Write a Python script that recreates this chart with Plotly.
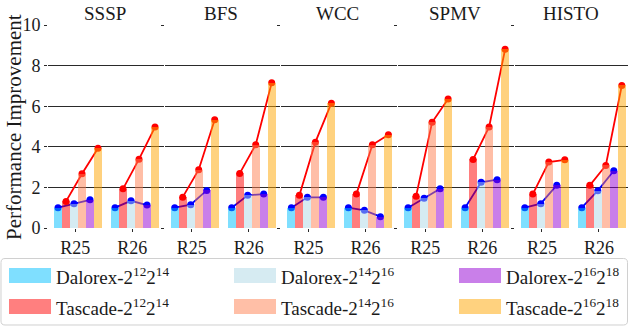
import plotly.graph_objects as go

# ---------------- data ----------------
benchmarks = ["SSSP", "BFS", "WCC", "SPMV", "HISTO"]
runs = ["R25", "R26"]
series_names = [
    "Dalorex-2<sup>12</sup>2<sup>14</sup>",
    "Tascade-2<sup>12</sup>2<sup>14</sup>",
    "Dalorex-2<sup>14</sup>2<sup>16</sup>",
    "Tascade-2<sup>14</sup>2<sup>16</sup>",
    "Dalorex-2<sup>16</sup>2<sup>18</sup>",
    "Tascade-2<sup>16</sup>2<sup>18</sup>",
]
# values ordered: SSSP R25, SSSP R26, BFS R25, BFS R26, WCC R25, WCC R26, SPMV R25, SPMV R26, HISTO R25, HISTO R26
dalorex_12_14 = [1.0, 1.0, 1.0, 1.0, 1.0, 1.0, 1.0, 1.0, 1.0, 1.0]
tascade_12_14 = [1.31, 1.93, 1.52, 2.69, 1.61, 1.67, 1.57, 3.38, 1.67, 2.10]
dalorex_14_16 = [1.20, 1.34, 1.15, 1.61, 1.51, 0.87, 1.46, 2.25, 1.20, 1.84]
tascade_14_16 = [2.67, 3.39, 2.87, 4.10, 4.23, 4.10, 5.21, 4.98, 3.25, 3.08]
dalorex_16_18 = [1.39, 1.13, 1.85, 1.67, 1.51, 0.56, 1.93, 2.38, 2.11, 2.82]
tascade_16_18 = [3.93, 4.97, 5.33, 7.15, 6.15, 4.59, 6.36, 8.80, 3.36, 7.02]
y_ticks = [0, 2, 4, 6, 8, 10]

series_values = [dalorex_12_14, tascade_12_14, dalorex_14_16,
                 tascade_14_16, dalorex_16_18, tascade_16_18]
bar_colors = ["deepskyblue", "red", "lightblue", "coral", "darkviolet", "orange"]

# ---------------- layout geometry ----------------
W, H = 629, 329
L, R, T, B = 48, 0, 25, 101
PW, PH = W - L - R, H - T - B
FONT = "Liberation Serif, DejaVu Serif, serif"
TXT = "#1a1a1a"
GRID = "#2a2a2a"


def fx(px):
    return (px - L) / PW


def fy(py):
    return (H - B - py) / PH


period = 116.7
sub_w = 113.0
px_per_unit = 57.0
bw = 8.0 / px_per_unit
xmin = -3 * bw - 6.0 / px_per_unit
xmax = xmin + sub_w / px_per_unit

fig = go.Figure()
layout = dict(
    width=W, height=H,
    margin=dict(l=L, r=R, t=T, b=B, pad=0),
    paper_bgcolor="white", plot_bgcolor="white",
    font=dict(family=FONT, size=19, color=TXT),
    showlegend=False,
    bargap=0, barmode="overlay",
)

annotations = []
shapes = []
run_pos = list(range(len(runs)))

for i, bench in enumerate(benchmarks):
    n = i + 1
    ov = i + 1 + len(benchmarks)
    d0 = fx(L + period * i)
    d1 = fx(L + period * i + sub_w)
    xa = "x" if n == 1 else f"x{n}"
    ya = "y" if n == 1 else f"y{n}"
    xo, yo = f"x{ov}", f"y{ov}"

    layout["xaxis" if n == 1 else f"xaxis{n}"] = dict(
        domain=[d0, d1], anchor=ya, range=[xmin, xmax],
        tickmode="array", tickvals=[p - 0.05 for p in run_pos], ticktext=runs,
        ticks="outside", ticklen=3, tickcolor=GRID, showgrid=False,
        zeroline=False, showline=False, tickfont=dict(size=18, family=FONT),
    )
    layout["yaxis" if n == 1 else f"yaxis{n}"] = dict(
        domain=[0, 1], anchor=xa, range=[0, 10],
        tickmode="array", tickvals=y_ticks,
        ticks="outside", ticklen=3, tickcolor=GRID,
        showgrid=True, gridcolor=GRID, gridwidth=1,
        zeroline=False, showline=False, showticklabels=(n == 1),
        tickfont=dict(size=18, family=FONT),
    )
    layout[f"xaxis{ov}"] = dict(overlaying=xa, anchor=yo, range=[xmin, xmax],
                                visible=False)
    layout[f"yaxis{ov}"] = dict(overlaying=ya, anchor=xo, range=[0, 10],
                                visible=False)

    # lines (drawn below the translucent bars)
    for r_i, rp in enumerate(run_pos):
        idx = i * len(runs) + r_i
        for start, col in [(0, "blue"), (1, "red")]:
            ks = [start, start + 2, start + 4]
            fig.add_trace(go.Scatter(
                x=[rp + (k - 2.5) * bw for k in ks],
                y=[series_values[k][idx] for k in ks],
                mode="lines+markers",
                line=dict(color=col, width=1.8),
                marker=dict(color=col, size=7),
                xaxis=xa, yaxis=ya, hoverinfo="skip",
            ))

    # bars
    for k, vals in enumerate(series_values):
        fig.add_trace(go.Bar(
            x=[rp + (k - 2.5) * bw for rp in run_pos],
            y=[vals[i * len(runs) + r_i] for r_i in range(len(runs))],
            width=bw, marker=dict(color=bar_colors[k], line=dict(width=0)),
            opacity=0.5, xaxis=xo, yaxis=yo, name=series_names[k],
        ))

    annotations.append(dict(
        x=(d0 + d1) / 2, y=fy(13), xref="paper", yref="paper",
        text=bench, showarrow=False, xanchor="center", yanchor="middle",
        font=dict(size=19, family=FONT, color=TXT),
    ))

# y-axis title
annotations.append(dict(
    x=fx(14), y=fy(127), xref="paper", yref="paper",
    text="Performance Improvement", textangle=-90, showarrow=False,
    xanchor="center", yanchor="middle", font=dict(size=21, family=FONT, color=TXT),
))

# legend (manual, wide swatches)
bx0, bx1, by0, by1, rr = 1.0, 627.5, 258.5, 325.0, 4.0


def P(px, py):
    return f"{fx(px):.5f},{fy(py):.5f}"


path = (f"M {P(bx0 + rr, by0)} L {P(bx1 - rr, by0)} Q {P(bx1, by0)} {P(bx1, by0 + rr)} "
        f"L {P(bx1, by1 - rr)} Q {P(bx1, by1)} {P(bx1 - rr, by1)} "
        f"L {P(bx0 + rr, by1)} Q {P(bx0, by1)} {P(bx0, by1 - rr)} "
        f"L {P(bx0, by0 + rr)} Q {P(bx0, by0)} {P(bx0 + rr, by0)} Z")
shapes.append(dict(type="path", path=path, xref="paper", yref="paper",
                   line=dict(color="#d0d0d0", width=1), fillcolor="rgba(255,255,255,0.8)",
                   layer="above"))

col_x = [9.0, 234.0, 459.0]
row_y = [275.5, 306.5]
for k in range(6):
    c = k // 2
    r_ = k % 2
    x0 = col_x[c]
    yc = row_y[r_]
    shapes.append(dict(type="rect", xref="paper", yref="paper",
                       x0=fx(x0), x1=fx(x0 + 42), y0=fy(yc - 7.5), y1=fy(yc + 7.5),
                       fillcolor=bar_colors[k], opacity=0.5, line=dict(width=0),
                       layer="above"))
    annotations.append(dict(
        x=fx(x0 + 44.5), y=fy(yc), xref="paper", yref="paper",
        text=series_names[k], showarrow=False, xanchor="left", yanchor="middle",
        font=dict(size=19, family=FONT, color=TXT),
    ))

layout["annotations"] = annotations
layout["shapes"] = shapes
fig.update_layout(**layout)
fig.write_html("out.html")
